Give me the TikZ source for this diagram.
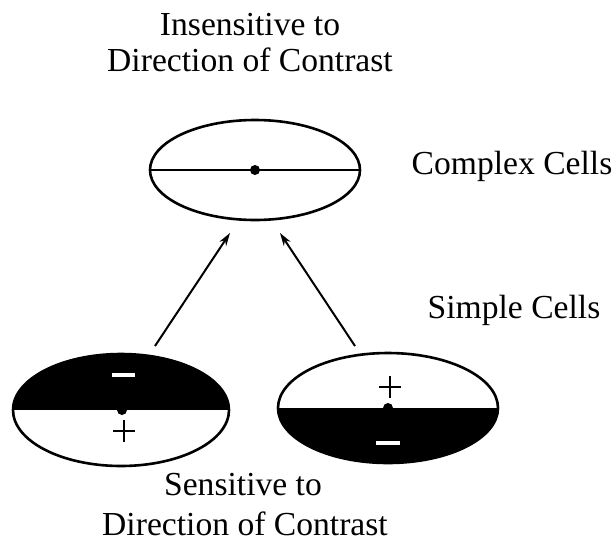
\documentclass[tikz,border=0pt]{standalone}
\usepackage{fontspec}
\setmainfont{Liberation Serif}
\usetikzlibrary{arrows.meta}
\begin{document}
\begin{tikzpicture}[x=1pt,y=-1pt,
  lbl/.style={font=\fontsize{33.6}{38}\selectfont, anchor=base, inner sep=0pt},
  rim/.style={line width=2.6pt},
  feed/.style={line width=2pt, -{Stealth[length=13pt,width=8pt]}},
  sign/.style={line width=2.2pt},
  bar/.style={line width=3.6pt, white}]
\useasboundingbox (0,0) rectangle (615,541);

% complex cell: unfilled field with its midline
\draw[rim] (255,170) ellipse [x radius=105, y radius=50];
\draw[line width=2.8pt] (150,170) -- (360,170);
\fill (255,170) circle (5);

% simple cell, dark on top
\begin{scope}
  \clip (121,410) ellipse [x radius=108, y radius=56];
  \fill (0,340) rectangle (240,410);
\end{scope}
\draw[rim] (121,410) ellipse [x radius=108, y radius=56];
\fill (122,410) circle (5);
\draw[bar] (112,375) -- (135,375);
\draw[sign] (113,431) -- (135,431) (124,420) -- (124,442);

% simple cell, dark below
\begin{scope}
  \clip (388,408) ellipse [x radius=110, y radius=55];
  \fill (270,408) rectangle (510,470);
\end{scope}
\draw[rim] (388,408) ellipse [x radius=110, y radius=55];
\fill (388,408) circle (5);
\draw[sign] (379,387) -- (401,387) (390,376) -- (390,398);
\draw[bar] (376,443) -- (400,443);

% feed-forward connections
\coordinate (l0) at (155,346);
\coordinate (l1) at (230,233);
\coordinate (r0) at (355,346);
\coordinate (r1) at (280,233);
\draw[feed] (l0) -- (l1);
\draw[feed] (r0) -- (r1);

% labels
\node[lbl] (top1) at (250,35) {Insensitive to};
\node[lbl] (top2) at (250,71) {Direction of Contrast};
\node[lbl] (cc) at (512,174) {Complex Cells};
\node[lbl] (sc) at (514,318) {Simple Cells};
\node[lbl] (bot1) at (243,495) {Sensitive to};
\node[lbl] (bot2) at (245,535) {Direction of Contrast};
\end{tikzpicture}
\end{document}
